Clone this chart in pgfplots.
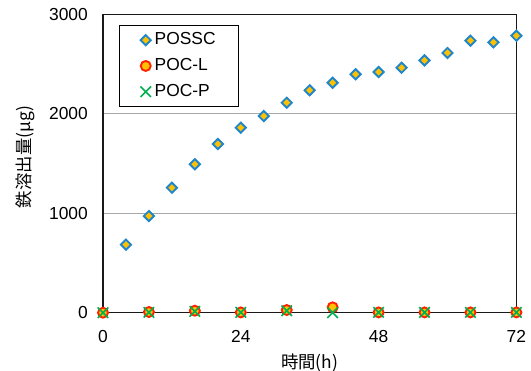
\documentclass[border=0pt]{standalone}
\usepackage{pgfplots}
\pgfplotsset{compat=1.18}
\usepackage{fontspec}
\setmainfont{Liberation Sans}
\newfontfamily\cjk{Noto Sans CJK JP}
\definecolor{dblue}{HTML}{1F86CC}
\definecolor{gold}{HTML}{FFC000}
\definecolor{lred}{HTML}{FF2200}
\definecolor{lgreen}{HTML}{00B050}
\definecolor{gridg}{HTML}{A8A8A8}
\begin{document}
\fontsize{17.4bp}{20bp}\selectfont
\begin{tikzpicture}
\path[use as bounding box] (-103bp,-58.3bp) rectangle (428bp,312.7bp);
\begin{axis}[
  at={(0,0)}, anchor=south west,
  scale only axis,
  width=413.4bp, height=298.4bp,
  xmin=0, xmax=72, ymin=0, ymax=3000,
  xtick={0,24,48,72},
  ytick={0,1000,2000,3000},
  major tick length=0pt,
  ymajorgrids,
  grid style={gridg, line width=0.9bp},
  axis line style={black!90, line width=1.3bp},
  /pgf/number format/assume math mode=true,
  scaled y ticks=false,
  yticklabel style={/pgf/number format/1000 sep={}, inner sep=0pt, anchor=east, xshift=-15bp},
  xticklabel style={inner sep=0pt, anchor=north, yshift=-17bp},
  tick label style={font=\fontsize{17.4bp}{20bp}\selectfont},
  xlabel={\cjk 時間(h)},
  ylabel={\cjk 鉄溶出量(μg)},
  xlabel style={at={(axis description cs:0.5,-0.1686)}, anchor=center, font=\fontsize{17.4bp}{20bp}\selectfont},
  ylabel style={at={(axis description cs:-0.1887,0.522)}, anchor=center, font=\fontsize{17.4bp}{20bp}\selectfont},
  clip=false,
  legend cell align=left,
  legend image code/.code={\path[draw=none, fill=none, use as bounding box] (-6bp,-6bp) rectangle (6bp,6bp); \draw[#1] plot coordinates {(0bp,0bp)};},
  legend style={at={(axis description cs:0.0394,0.963)}, anchor=north west,
    draw=black, line width=0.9bp, inner xsep=20bp, inner ysep=7bp,
    font=\fontsize{17.4bp}{20bp}\selectfont,
    nodes={inner xsep=3bp, inner ysep=0pt},
    row sep=11bp},
]
\addplot[only marks, mark=square*, mark size=3.6bp, mark options={rotate=45, draw=dblue, fill=gold, line width=1.9bp}]
coordinates {
(4,684) (8,972) (12,1257) (16,1492) (20,1696) (24,1860) (28,1977) (32,2111)
(36,2236) (40,2312) (44,2397) (48,2420) (52,2463) (56,2537) (60,2611)
(64,2735) (68,2718) (72,2785)
};
\addlegendentry{POSSC}
\addplot[only marks, mark=*, mark size=5bp, mark options={draw=lred, fill=gold, line width=1.9bp}]
coordinates {
(0,0) (8,7) (16,20) (24,3) (32,27) (40,54) (48,3) (56,3) (64,3) (72,3)
};
\addlegendentry{POC-L}
\addplot[only marks, mark=x, mark size=7.4bp, mark options={draw=lgreen, line width=1.6bp}]
coordinates {
(0,0) (8,3) (16,13) (24,3) (32,20) (40,0) (48,3) (56,3) (64,3) (72,3)
};
\addlegendentry{POC-P}
\end{axis}
\end{tikzpicture}
\end{document}
